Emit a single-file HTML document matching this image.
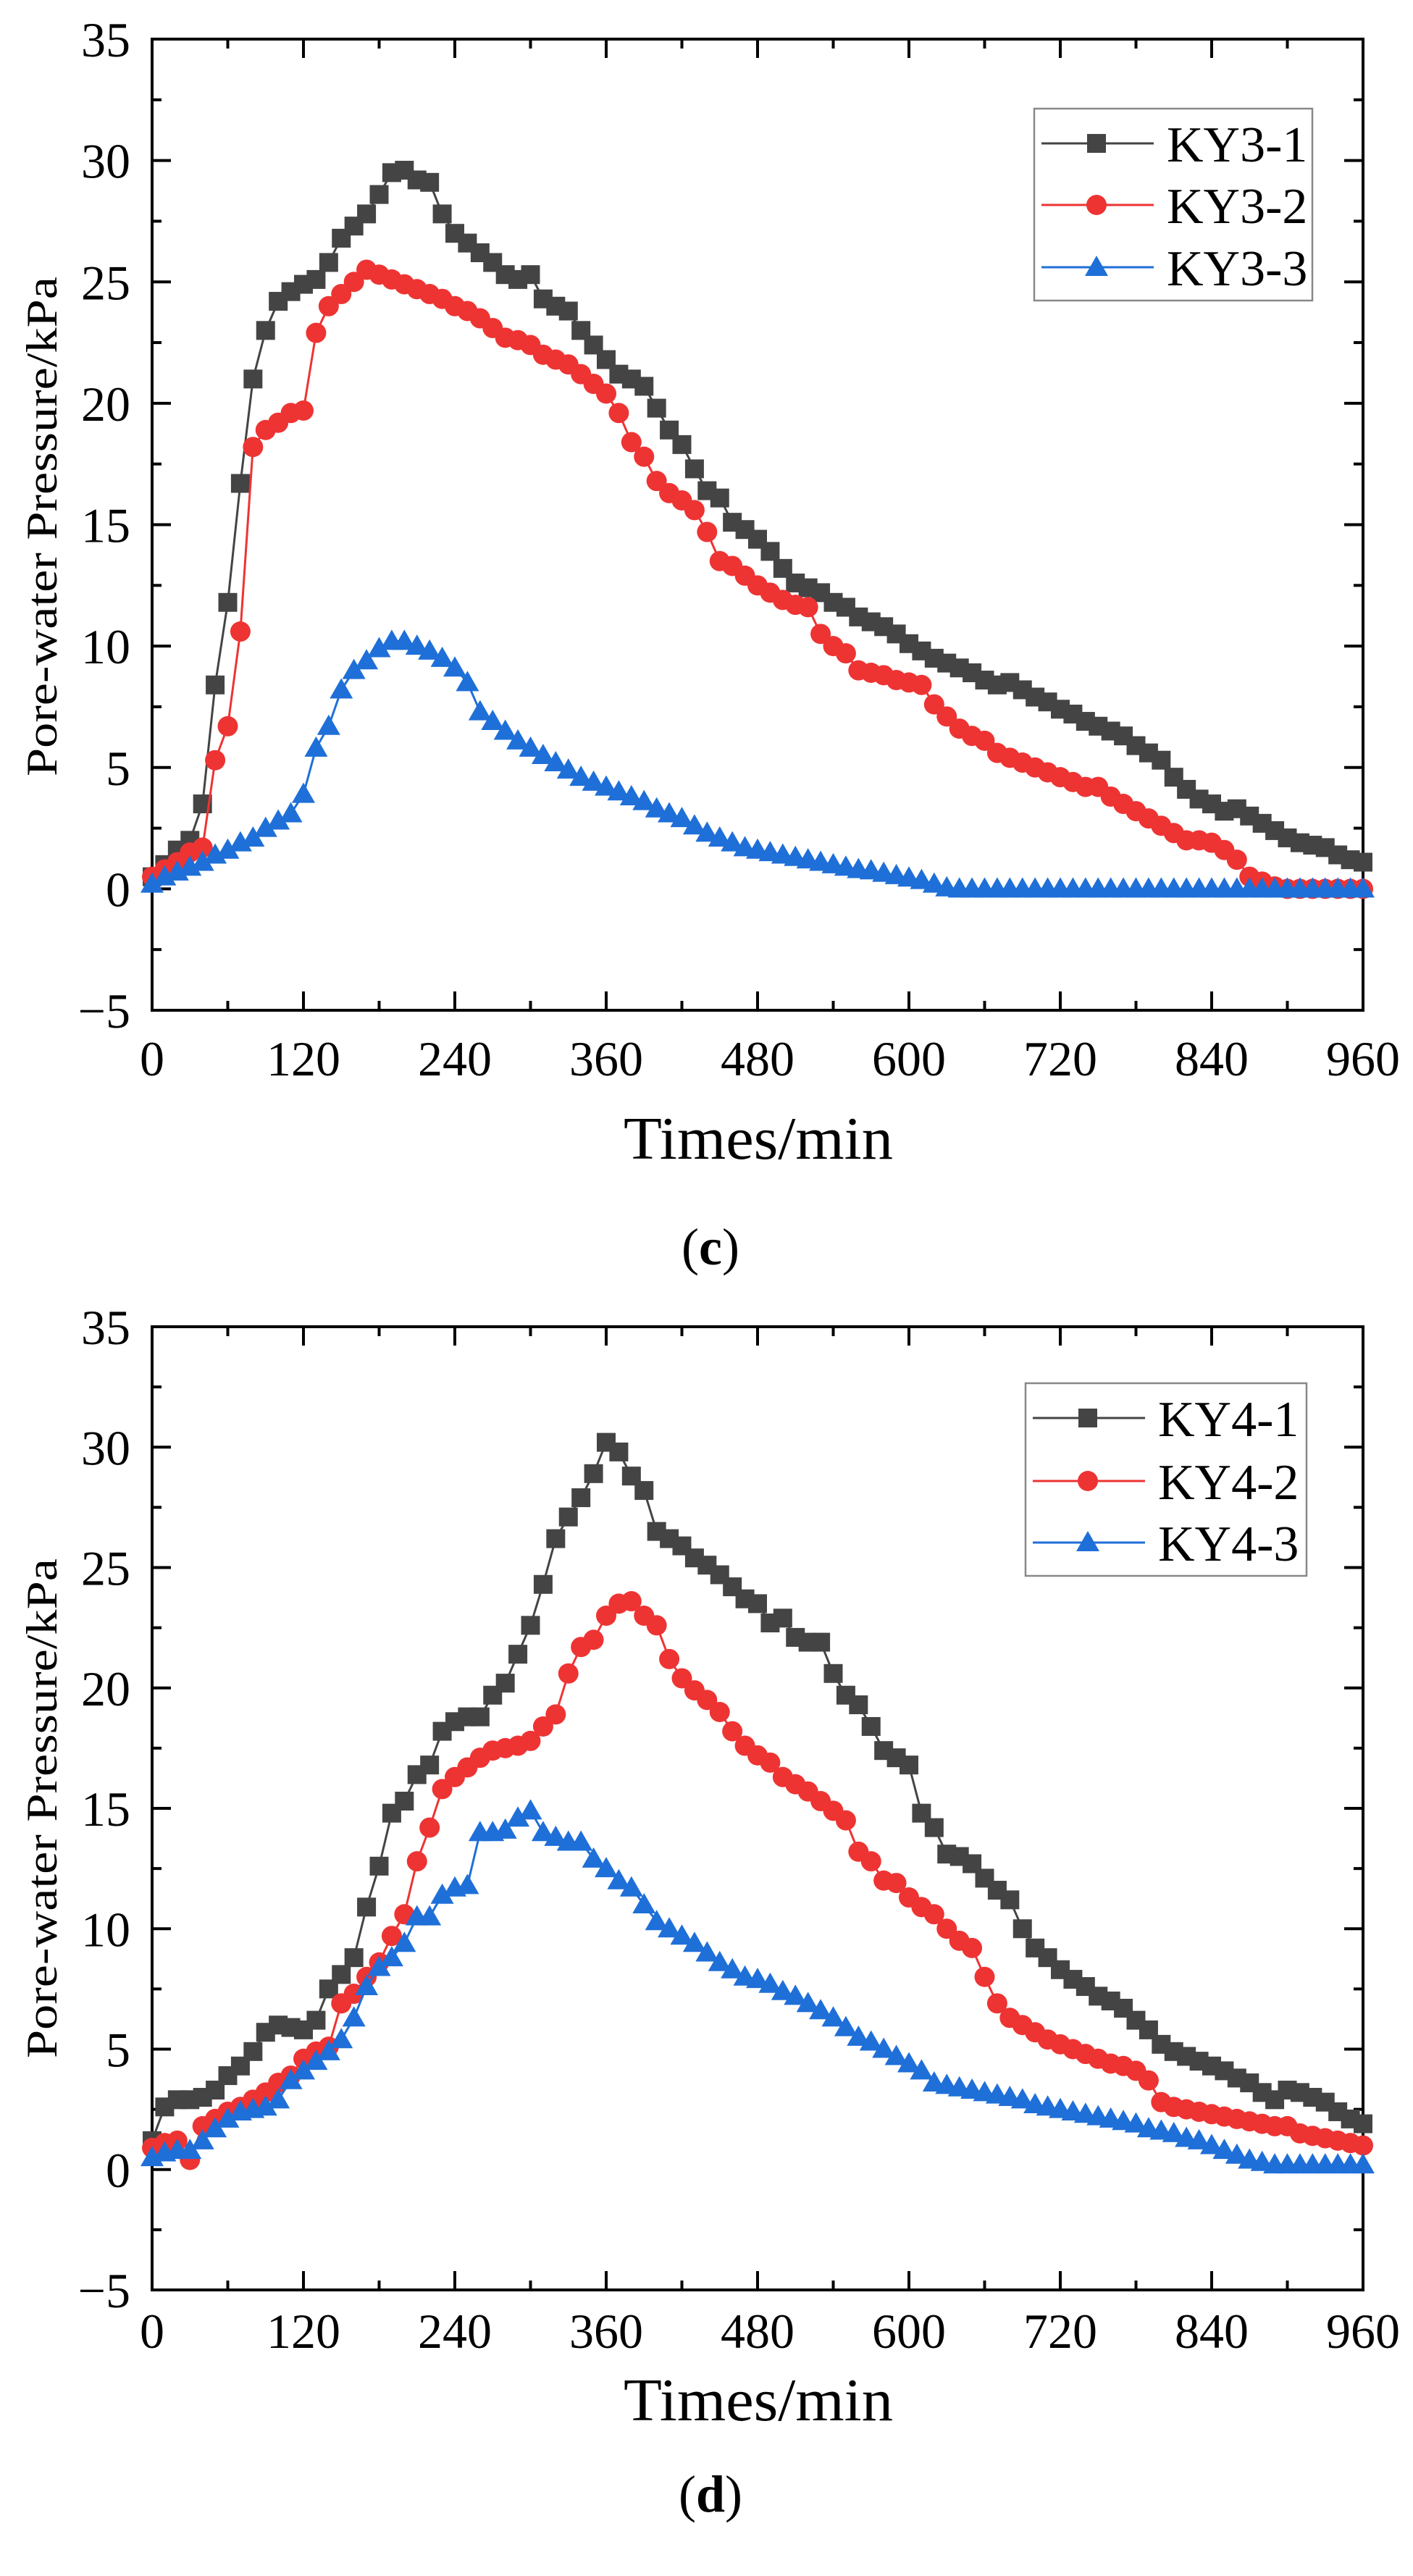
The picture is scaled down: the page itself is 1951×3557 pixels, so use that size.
<!DOCTYPE html>
<html><head><meta charset="utf-8"><style>
html,body{margin:0;padding:0;background:#fff;}
svg{display:block;font-family:"Liberation Serif","Times New Roman",serif;}
</style></head><body>
<svg id="fig" width="1951" height="3557" viewBox="0 0 1951 3557" xmlns="http://www.w3.org/2000/svg"></svg>
<script>
// ---- data (times at 10-min steps from 0 to 960) ----
const xTicks = [0,120,240,360,480,600,720,840,960];
const yTicks = [-5,0,5,10,15,20,25,30,35];
const namesC = ["KY3-1","KY3-2","KY3-3"];
const namesD = ["KY4-1","KY4-2","KY4-3"];
const ky31 = [0.5,1.0,1.6,2.0,3.5,8.4,11.8,16.7,21.0,23.0,
24.2,24.6,24.9,25.1,25.8,26.8,27.3,27.8,28.6,29.5,
29.6,29.2,29.1,27.8,27.0,26.6,26.2,25.8,25.3,25.1,
25.3,24.3,24.0,23.8,23.0,22.4,21.8,21.2,21.0,20.7,
19.8,18.9,18.3,17.3,16.4,16.1,15.1,14.8,14.4,13.9,
13.2,12.6,12.4,12.2,11.8,11.6,11.2,11.0,10.8,10.5,
10.1,9.8,9.5,9.3,9.1,8.9,8.6,8.4,8.5,8.2,
7.9,7.7,7.4,7.2,6.9,6.7,6.5,6.3,5.9,5.6,
5.3,4.6,4.1,3.7,3.5,3.2,3.3,3.0,2.7,2.4,
2.1,1.9,1.8,1.7,1.4,1.2,1.1];
const ky32 = [0.5,0.8,1.1,1.5,1.7,5.3,6.7,10.6,18.2,18.9,
19.2,19.6,19.7,22.9,24.0,24.5,25.0,25.5,25.3,25.1,
24.9,24.7,24.5,24.3,24.0,23.8,23.5,23.1,22.7,22.6,
22.4,22.0,21.8,21.6,21.2,20.8,20.4,19.6,18.4,17.8,
16.8,16.3,16.0,15.6,14.7,13.5,13.3,12.9,12.5,12.2,
11.9,11.7,11.6,10.5,10.0,9.7,9.0,8.9,8.8,8.6,
8.5,8.4,7.6,7.1,6.6,6.3,6.1,5.6,5.4,5.2,
5.0,4.8,4.6,4.4,4.2,4.2,3.8,3.5,3.2,2.9,
2.6,2.3,2.0,2.0,1.9,1.6,1.2,0.5,0.3,0.1,
0,0,0,0,0,0,0];
const ky33 = [0.2,0.5,0.7,0.9,1.1,1.4,1.6,1.9,2.1,2.5,
2.8,3.1,3.9,5.8,6.7,8.2,9.0,9.4,9.9,10.2,
10.2,10.0,9.8,9.5,9.1,8.5,7.3,6.9,6.5,6.1,
5.8,5.5,5.2,4.9,4.6,4.4,4.2,4.0,3.8,3.6,
3.3,3.1,2.9,2.6,2.3,2.1,1.9,1.7,1.6,1.5,
1.4,1.3,1.2,1.1,1.0,0.9,0.8,0.75,0.65,0.55,
0.45,0.35,0.2,0.05,0,0,0,0,0,0,
0,0,0,0,0,0,0,0,0,0,
0,0,0,0,0,0,0,0,0,0,
0,0,0,0,0,0,0];
const ky41 = [1.2,2.6,2.9,2.9,3.0,3.3,3.9,4.3,4.9,5.7,
6.0,5.9,5.8,6.2,7.5,8.1,8.8,10.9,12.6,14.8,
15.3,16.4,16.8,18.2,18.6,18.8,18.8,19.7,20.2,21.4,
22.6,24.3,26.2,27.1,27.9,28.9,30.2,29.8,28.8,28.2,
26.5,26.2,25.9,25.4,25.1,24.7,24.2,23.7,23.5,22.7,
22.9,22.1,21.9,21.9,20.6,19.7,19.3,18.4,17.4,17.1,
16.8,14.8,14.2,13.1,13.0,12.7,12.1,11.6,11.2,10.0,
9.2,8.8,8.3,7.9,7.6,7.2,7.0,6.7,6.2,5.8,
5.2,4.9,4.7,4.5,4.3,4.1,3.8,3.6,3.2,2.9,
3.3,3.2,3.0,2.8,2.4,2.1,1.9];
const ky42 = [0.9,1.1,1.2,0.4,1.8,2.1,2.4,2.6,2.9,3.2,
3.6,3.9,4.6,4.9,5.1,6.9,7.3,8.0,8.6,9.7,
10.6,12.8,14.2,15.8,16.3,16.7,17.1,17.4,17.5,17.6,
17.8,18.4,18.9,20.6,21.7,22.0,23.0,23.5,23.6,23.0,
22.6,21.2,20.4,19.9,19.5,19.0,18.2,17.6,17.2,16.9,
16.3,16.0,15.7,15.3,14.9,14.5,13.2,12.8,12.0,11.9,
11.3,10.9,10.6,10.0,9.5,9.2,8.0,6.9,6.3,6.0,
5.7,5.4,5.2,5.0,4.8,4.6,4.4,4.3,4.1,3.7,
2.8,2.6,2.5,2.4,2.3,2.2,2.1,2.0,1.9,1.8,
1.8,1.5,1.4,1.3,1.2,1.1,1.0];
const ky43 = [0.5,0.7,0.8,0.8,1.2,1.7,2.1,2.4,2.5,2.6,
2.9,3.7,4.1,4.5,4.9,5.4,6.3,7.6,8.4,8.8,
9.4,10.5,10.5,11.4,11.7,11.8,14.0,14.0,14.1,14.6,
14.9,14.0,13.8,13.6,13.6,12.9,12.5,12.0,11.7,11.0,
10.3,10.0,9.7,9.4,9.0,8.6,8.3,8.0,7.9,7.7,
7.4,7.2,6.9,6.6,6.3,5.9,5.5,5.3,5.0,4.7,
4.4,4.1,3.6,3.5,3.4,3.3,3.2,3.1,3.0,2.9,
2.7,2.6,2.5,2.4,2.3,2.2,2.1,2.0,1.9,1.7,
1.6,1.5,1.3,1.2,1.0,0.8,0.6,0.4,0.3,0.2,
0.2,0.2,0.2,0.2,0.2,0.2,0.2];

const NS = "http://www.w3.org/2000/svg";
const svg = document.getElementById('fig');
function mk(tag, attrs, parent){
  const e = document.createElementNS(NS, tag);
  for (const k in attrs) e.setAttribute(k, attrs[k]);
  (parent||svg).appendChild(e);
  return e;
}
const colors = ["#444444","#ee3333","#1f6fd8"];
const L = 210, R = 1882;

function drawPlot(top, bottom, labOff, series, names, legend, yLabelC, xTitleY, capY, capText, tag){
  const g = mk('g', {});
  
  
  const xs = v => L + (v - 0) / 960 * (R - L);
  const ys = v => bottom - (v + 5) / 40 * (bottom - top);
  const ax = mk('g', {stroke:'#000','stroke-width':4,fill:'none'}, g);
  
  
  mk('rect', {x:L, y:top, width:R-L, height:bottom-top}, ax);
  for (let v = 0; v <= 960; v += 60) {
    const len = (v % 120 === 0) ? 26 : 13;
    const x = xs(v);
    mk('line', {x1:x, y1:bottom, x2:x, y2:bottom-len}, ax);
    mk('line', {x1:x, y1:top, x2:x, y2:top+len}, ax);
  }
  for (let v = -5; v <= 35; v += 2.5) {
    const len = (v % 5 === 0) ? 26 : 13;
    const y = ys(v);
    mk('line', {x1:L, y1:y, x2:L+len, y2:y}, ax);
    mk('line', {x1:R, y1:y, x2:R-len, y2:y}, ax);
  }
  xTicks.forEach(v => {
    const t = mk('text', {x:xs(v), y:bottom+labOff, 'font-size':68, 'text-anchor':'middle', fill:'#000'}, g);
    t.textContent = v;
    
    
  });
  yTicks.forEach(v => {
    const t = mk('text', {x:180, y:ys(v)+24, 'font-size':68, 'text-anchor':'end', fill:'#000'}, g);
    t.textContent = v < 0 ? '\u2212' + Math.abs(v) : v;
    
    
  });
  const yl = mk('text', {x:0, y:0, 'font-size':60, 'text-anchor':'middle', fill:'#000',
    transform:'translate(78,'+yLabelC+') rotate(-90)', textLength:690, lengthAdjust:'spacingAndGlyphs'}, g);
  yl.textContent = 'Pore-water Pressure/kPa';
  
  
  const xl = mk('text', {x:1047, y:xTitleY, 'font-size':84, 'text-anchor':'middle', fill:'#000', textLength:372, lengthAdjust:'spacingAndGlyphs'}, g);
  xl.textContent = 'Times/min';
  
  
  const cap = mk('text', {x:981, y:capY, 'font-size':72, 'text-anchor':'middle', fill:'#000'}, svg);
  const t1 = mk('tspan', {}, cap); t1.textContent = '(';
  const t2 = mk('tspan', {'font-weight':'bold'}, cap); t2.textContent = capText;
  const t3 = mk('tspan', {}, cap); t3.textContent = ')';
  
  

  function marker(k, x, y, parent){
    if (k === 0) return mk('rect', {x:x-13, y:y-13, width:26, height:26, fill:colors[0]}, parent);
    if (k === 1) return mk('circle', {cx:x, cy:y, r:14, fill:colors[1]}, parent);
    return mk('polygon', {points:(x)+','+(y-16)+' '+(x-16)+','+(y+12)+' '+(x+16)+','+(y+12), fill:colors[2]}, parent);
  }
  series.forEach((vals, k) => {
    const sg = mk('g', {}, g);
    
    
    const pts = vals.map((v, i) => xs(i*10).toFixed(1) + ',' + ys(v).toFixed(1)).join(' ');
    const pl = mk('polyline', {points:pts, fill:'none', stroke:colors[k], 'stroke-width':3}, sg);
    
    
    vals.forEach((v, i) => {
      const m = marker(k, xs(i*10), ys(v), sg);
      
      
    });
  });
  const lg = mk('g', {}, g);
  
  
  mk('rect', {x:legend.x, y:legend.y, width:legend.w, height:legend.h, fill:'#fff', stroke:'#888', 'stroke-width':2.5}, lg);
  names.forEach((n, k) => {
    const eg = mk('g', {}, lg);
    
    
    const yy = legend.rows[k];
    mk('line', {x1:legend.x+10, y1:yy, x2:legend.x+165, y2:yy, stroke:colors[k], 'stroke-width':3}, eg);
    marker(k, legend.x+86, yy, eg);
    const t = mk('text', {x:legend.x+183, y:yy+25, 'font-size':70, fill:'#000'}, eg);
    t.textContent = n;
  });
}

drawPlot(54, 1395, 90, [ky31, ky32, ky33], namesC,
  {x:1428, y:150, w:384, h:265, rows:[198,283,369]}, 727, 1600, 1746, 'c', 'c');
drawPlot(1832, 3162, 80, [ky41, ky42, ky43], namesD,
  {x:1416, y:1910, w:388, h:266, rows:[1958,2045,2130]}, 2497, 3342, 3468, 'd', 'd');
</script>
</body></html>
